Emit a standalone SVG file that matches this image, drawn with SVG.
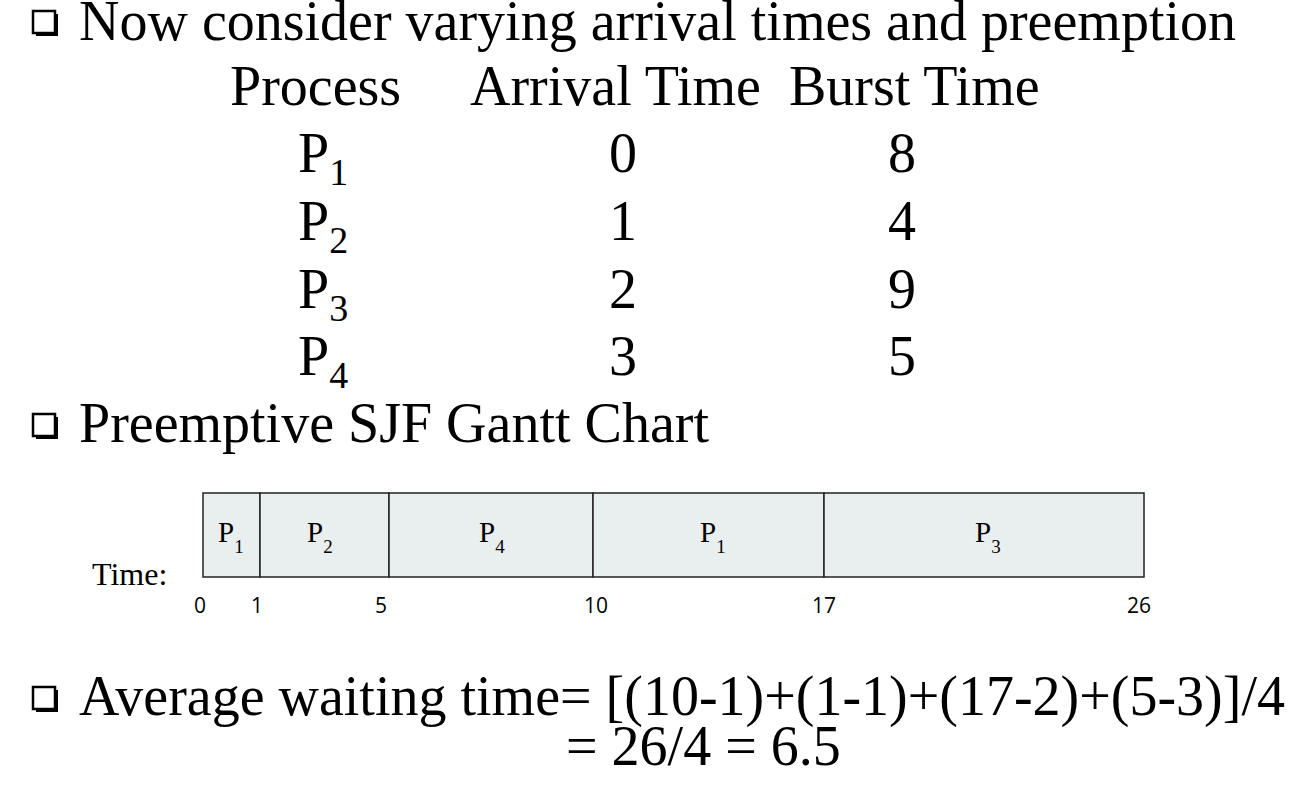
<svg xmlns="http://www.w3.org/2000/svg" width="1299" height="786" viewBox="0 0 1299 786">
<defs>
<style>
.t{font-family:"Liberation Serif","Times New Roman",serif;fill:#000}
.big{font-size:56px}
.sub{font-size:38px}
.g{font-size:29px}
.gs{font-size:19px}
.n{font-family:"Open Sans","Liberation Sans",sans-serif;font-size:21px;fill:#000;text-anchor:middle}
.cell{fill:#e9eeee;stroke:#222;stroke-width:1.5}
.bul{fill:#fff;stroke:#000;stroke-width:2.5}
</style>
<g id="bullet">
<rect x="3" y="3" width="22" height="22" fill="#000"/>
<rect x="0" y="0" width="22" height="22" class="bul"/>
</g>
</defs>
<rect width="1299" height="786" fill="#fff"/>
<g id="line1">
<use href="#bullet" x="33" y="11"/>
<text class="t big" x="79" y="40">Now consider varying arrival times and preemption</text>
</g>
<g id="table" class="t big">
<text x="230" y="105">Process</text>
<text x="470" y="105">Arrival Time</text>
<text x="789" y="105">Burst Time</text>
<text x="298" y="172">P<tspan class="sub" dy="13">1</tspan></text>
<text x="298" y="240">P<tspan class="sub" dy="13">2</tspan></text>
<text x="298" y="308">P<tspan class="sub" dy="13">3</tspan></text>
<text x="298" y="375">P<tspan class="sub" dy="13">4</tspan></text>
<g text-anchor="middle">
<text x="623" y="172">0</text>
<text x="623" y="240">1</text>
<text x="623" y="308">2</text>
<text x="623" y="375">3</text>
<text x="902" y="172">8</text>
<text x="902" y="240">4</text>
<text x="902" y="308">9</text>
<text x="902" y="375">5</text>
</g>
</g>
<g id="line2">
<use href="#bullet" x="33" y="414"/>
<text class="t big" x="79" y="442">Preemptive SJF Gantt Chart</text>
</g>
<g id="gantt">
<rect class="cell" x="203" y="493" width="57" height="84"/>
<rect class="cell" x="260" y="493" width="129" height="84"/>
<rect class="cell" x="389" y="493" width="204" height="84"/>
<rect class="cell" x="593" y="493" width="231" height="84"/>
<rect class="cell" x="824" y="493" width="320" height="84"/>
<g class="t g">
<text x="218" y="542">P<tspan class="gs" dy="11">1</tspan></text>
<text x="307" y="542">P<tspan class="gs" dy="11">2</tspan></text>
<text x="479" y="542">P<tspan class="gs" dy="11">4</tspan></text>
<text x="700" y="542">P<tspan class="gs" dy="11">1</tspan></text>
<text x="975" y="542">P<tspan class="gs" dy="11">3</tspan></text>
</g>
<text class="t" x="92" y="585" font-size="32">Time:</text>
<text class="n" x="200" y="613">0</text>
<text class="n" x="257" y="613">1</text>
<text class="n" x="381" y="613">5</text>
<text class="n" x="596" y="613">10</text>
<text class="n" x="824" y="613">17</text>
<text class="n" x="1139" y="613">26</text>
</g>
<g id="line3">
<use href="#bullet" x="33" y="687"/>
<text class="t big" x="79" y="715" font-size="56.4">Average waiting time= [(10-1)+(1-1)+(17-2)+(5-3)]/4</text>
<text class="t big" x="566" y="765">= 26/4 = 6.5</text>
</g>
</svg>
